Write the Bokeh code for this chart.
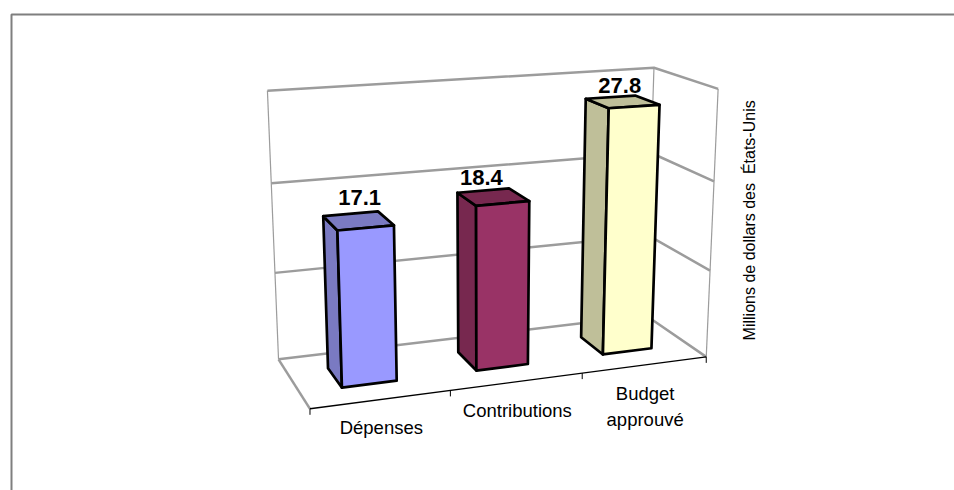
import numpy as np
from bokeh.plotting import figure
from bokeh.embed import file_html
from bokeh.resources import INLINE
from bokeh.core.properties import value

# ---- data ----
categories = ["Dépenses", "Contributions", "Budget\napprouvé"]
values = [17.1, 18.4, 27.8]
value_labels = ["17.1", "18.4", "27.8"]
value_ticks = [0, 10, 20, 30]
axis_title = "Millions de dollars des \u00a0États-Unis"

# ---- styles ----
front_colors = ["#9999ff", "#993366", "#ffffcc"]
shade_colors = ["#7a7ac2", "#77284f", "#bfbf99"]
label_nudge_x = [1.5, -11.5, -2.5]
label_nudge_y = [-3.5, 0, 3]
GRID = "#9c9c9c"
FONT = "Liberation Sans"

# ---- camera: (category u, depth d, value v) -> page pixels ----
calibration = [
    ((0, 0, 0), (309.5, 408)), ((1, 0, 0), (450, 390.5)), ((2, 0, 0), (582, 373)), ((3, 0, 0), (706, 356)),
    ((0, 1, 0), (278, 358)), ((3, 1, 0), (645, 315)),
    ((0, 1, 10), (274, 273)), ((0, 1, 20), (271, 183)), ((0, 1, 30), (267, 90)),
    ((3, 1, 10), (648, 235)), ((3, 1, 20), (651, 153)), ((3, 1, 30), (654, 67)),
    ((3, 0, 10), (710, 270)), ((3, 0, 20), (713, 181)), ((3, 0, 30), (717, 88)),
]


def fit_camera(pairs):
    rows = []
    for (u, d, v), (x, y) in pairs:
        X = [u / 3, d, v / 30, 1]
        x, y = x / 1000, y / 1000
        rows.append(X + [0, 0, 0, 0] + [-x * c for c in X])
        rows.append([0, 0, 0, 0] + X + [-y * c for c in X])
    return np.linalg.svd(np.array(rows))[2][-1].reshape(3, 4)


P = fit_camera(calibration)


def project(u, d, v):
    h = P @ np.array([u / 3, d, v / 30, 1])
    return h[0] / h[2] * 1000, h[1] / h[2] * 1000


def poly(pts):
    xy = [project(*q) for q in pts]
    return [a for a, _ in xy], [b for _, b in xy]


# ---- page ----
p = figure(width=954, height=490, x_range=(0, 954), y_range=(490, 0),
           toolbar_location=None, output_backend="svg", min_border=0,
           background_fill_color="white", border_fill_color="white")
p.axis.visible = False
p.grid.visible = False
p.outline_line_color = None

# chart frame
p.line([11, 11, 954], [490, 14, 14], line_color="#7f7f7f", line_width=2)

# walls and gridlines
NC = len(categories)
for v in value_ticks:
    x, y = poly([(0, 1, v), (NC, 1, v), (NC, 0, v)])
    p.line(x, y, line_color=GRID, line_width=2.5)
for (u, d) in [(0, 1), (NC, 1), (NC, 0)]:
    x, y = poly([(u, d, value_ticks[0]), (u, d, value_ticks[-1])])
    p.line(x, y, line_color=GRID, line_width=1.2)
x, y = poly([(0, 1, 0), (0, 0, 0)])
p.line(x, y, line_color=GRID, line_width=2.5)

# category axis
x, y = poly([(0, 0, 0), (NC, 0, 0)])
p.line(x, y, line_color="black", line_width=1.4)
for i in range(NC + 1):
    xb, yb = project(i, 0, 0)
    p.line([xb, xb], [yb, yb + 6], line_color="black", line_width=1)

# bars
D0, D1, W0, W1 = 0.3, 0.7, 0.3, 0.7
for i, val in enumerate(values):
    a, b = i + W0, i + W1
    faces = [
        ([(a, D1, 0), (a, D0, 0), (a, D0, val), (a, D1, val)], shade_colors[i]),
        ([(a, D0, val), (b, D0, val), (b, D1, val), (a, D1, val)], shade_colors[i]),
        ([(a, D0, 0), (b, D0, 0), (b, D0, val), (a, D0, val)], front_colors[i]),
    ]
    for pts, col in faces:
        x, y = poly(pts)
        p.patch(x, y, fill_color=col, line_color="black", line_width=2.7, line_join="round")
    xl, yl = project(i + 0.5, 0.5, val)
    p.text([xl + label_nudge_x[i]], [yl - 12 + label_nudge_y[i]], text=[value_labels[i]],
           text_font=value(FONT), text_font_style="bold", text_font_size="22px", text_color="black",
           text_align="center", text_baseline="bottom")

# category labels
for i, lab in enumerate(categories):
    xc, yc = project(i + 0.5, 0, 0)
    p.text([xc], [yc + 18], text=[lab], text_font=value(FONT), text_font_size="18.5px",
           text_color="black", text_align="center", text_baseline="top", text_line_height=1.25)

# value-axis title
xa, ya = project(NC, 0, 15)
p.text([xa + 37], [ya - 6], text=[axis_title], text_font=value(FONT), text_font_size="16px",
       text_color="black", angle=np.pi / 2, text_align="center", text_baseline="middle")

open("out.html", "w").write(file_html(p, INLINE))
